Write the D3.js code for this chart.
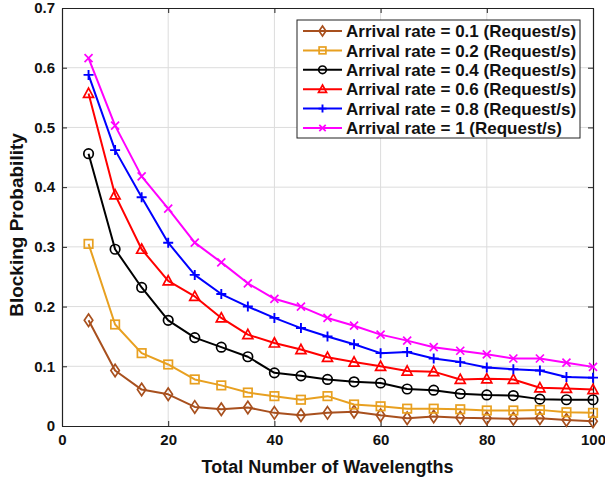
<!DOCTYPE html>
<html>
<head>
<meta charset="utf-8">
<script src="https://cdn.jsdelivr.net/npm/d3@7"></script>
<style>
  body { margin: 0; background: #fff; }
  svg { display: block; font-family: "Liberation Sans", Arial, sans-serif; }
</style>
</head>
<body>
<svg id="chart" width="605" height="479"></svg>
<script>
// wavelengths on the x axis
const wavelengths = [5, 10, 15, 20, 25, 30, 35, 40, 45, 50, 55, 60, 65, 70, 75, 80, 85, 90, 95, 100];

const rate01 = [0.177, 0.093, 0.061, 0.053, 0.032, 0.028, 0.031, 0.022, 0.018, 0.022, 0.024, 0.018, 0.013, 0.016, 0.014, 0.013, 0.012, 0.013, 0.010, 0.008];
const rate02 = [0.305, 0.170, 0.122, 0.103, 0.078, 0.068, 0.056, 0.050, 0.044, 0.050, 0.036, 0.033, 0.029, 0.029, 0.028, 0.026, 0.026, 0.027, 0.023, 0.022];
const rate04 = [0.456, 0.296, 0.232, 0.177, 0.148, 0.132, 0.116, 0.089, 0.084, 0.078, 0.074, 0.072, 0.062, 0.060, 0.054, 0.052, 0.051, 0.045, 0.044, 0.044];
const rate06 = [0.557, 0.387, 0.296, 0.243, 0.217, 0.181, 0.153, 0.139, 0.128, 0.115, 0.107, 0.100, 0.092, 0.091, 0.078, 0.079, 0.078, 0.064, 0.063, 0.061];
const rate08 = [0.588, 0.462, 0.383, 0.307, 0.253, 0.221, 0.200, 0.181, 0.164, 0.150, 0.137, 0.122, 0.124, 0.113, 0.107, 0.098, 0.095, 0.093, 0.082, 0.081];
const rate10 = [0.616, 0.503, 0.418, 0.364, 0.307, 0.274, 0.239, 0.213, 0.200, 0.181, 0.168, 0.153, 0.143, 0.132, 0.126, 0.120, 0.113, 0.113, 0.106, 0.099];

const seriesNames = [
  "Arrival rate = 0.1 (Request/s)",
  "Arrival rate = 0.2 (Request/s)",
  "Arrival rate = 0.4 (Request/s)",
  "Arrival rate = 0.6 (Request/s)",
  "Arrival rate = 0.8 (Request/s)",
  "Arrival rate = 1 (Request/s)"
];
const seriesValues = [rate01, rate02, rate04, rate06, rate08, rate10];
const seriesColors = ["#a8501e", "#e8a020", "#000000", "#ff0000", "#0000ff", "#ff00ff"];
const seriesMarkers = ["diamond", "square", "circle", "triangle", "plus", "cross"];

const xTicks = [0, 20, 40, 60, 80, 100];
const yTicks = [0, 0.1, 0.2, 0.3, 0.4, 0.5, 0.6, 0.7];

const svg = d3.select("#chart");
const margin = { left: 62, right: 12, top: 8, bottom: 53 };
const W = 605, H = 479;

const x = d3.scaleLinear().domain([0, 100]).range([margin.left, W - margin.right]);
const y = d3.scaleLinear().domain([0, 0.7]).range([H - margin.bottom, margin.top]);

// grid
const grid = svg.append("g").attr("stroke", "#dcdcdc").attr("stroke-width", 1);
grid.selectAll("line.vx").data(xTicks.slice(1, -1)).join("line")
  .attr("x1", d => x(d)).attr("x2", d => x(d))
  .attr("y1", y(0)).attr("y2", y(0.7));
grid.selectAll("line.hy").data(yTicks.slice(1, -1)).join("line")
  .attr("y1", d => y(d)).attr("y2", d => y(d))
  .attr("x1", x(0)).attr("x2", x(100));

// axes (MATLAB style: inward ticks on all sides)
const tickLen = 5;
const axFont = "bold 15px 'Liberation Sans', Arial, sans-serif";

const xAxis = d3.axisBottom(x).tickValues(xTicks).tickSizeInner(-tickLen).tickSizeOuter(0).tickPadding(8);
const yAxis = d3.axisLeft(y).tickValues(yTicks).tickSizeInner(-tickLen).tickSizeOuter(0).tickPadding(7)
  .tickFormat(d => d === 0 ? "0" : d3.format(".1f")(d));

const gx = svg.append("g").attr("transform", `translate(0,${y(0)})`).call(xAxis);
const gy = svg.append("g").attr("transform", `translate(${x(0)},0)`).call(yAxis);
svg.append("g").attr("transform", `translate(0,${y(0.7)})`)
  .call(d3.axisTop(x).tickValues(xTicks).tickSizeInner(-tickLen).tickSizeOuter(0).tickFormat(""));
svg.append("g").attr("transform", `translate(${x(100)},0)`)
  .call(d3.axisRight(y).tickValues(yTicks).tickSizeInner(-tickLen).tickSizeOuter(0).tickFormat(""));

svg.selectAll(".domain").attr("stroke", "#222").attr("stroke-width", 1.2);
svg.selectAll(".tick line").attr("stroke", "#222");
svg.selectAll(".tick text").style("font", axFont).attr("fill", "#111");

// axis titles
svg.append("text")
  .attr("x", (x(0) + x(100)) / 2).attr("y", 473)
  .attr("text-anchor", "middle")
  .style("font", "bold 18px 'Liberation Sans', Arial, sans-serif")
  .attr("fill", "#111")
  .text("Total Number of Wavelengths");
svg.append("text")
  .attr("transform", `translate(23,225) rotate(-90)`)
  .attr("text-anchor", "middle")
  .style("font", "bold 19px 'Liberation Sans', Arial, sans-serif")
  .attr("fill", "#111")
  .text("Blocking Probability");

// marker drawing
function drawMarker(sel, type, color, s) {
  const h = s / 2;
  if (type === "diamond") {
    sel.append("path").attr("d", `M0,${-h * 1.25}L${h * 0.85},0L0,${h * 1.25}L${-h * 0.85},0Z`)
      .attr("fill", "none").attr("stroke", color).attr("stroke-width", 1.7);
  } else if (type === "square") {
    sel.append("rect").attr("x", -h * 0.85).attr("y", -h * 0.85).attr("width", h * 1.7).attr("height", h * 1.7)
      .attr("fill", "none").attr("stroke", color).attr("stroke-width", 1.7);
  } else if (type === "circle") {
    sel.append("circle").attr("r", h * 0.95)
      .attr("fill", "none").attr("stroke", color).attr("stroke-width", 1.7);
  } else if (type === "triangle") {
    sel.append("path").attr("d", `M0,${-h * 1.05}L${h},${h * 0.8}L${-h},${h * 0.8}Z`)
      .attr("fill", "none").attr("stroke", color).attr("stroke-width", 1.7);
  } else if (type === "plus") {
    sel.append("path").attr("d", `M${-h},0H${h}M0,${-h}V${h}`)
      .attr("stroke", color).attr("stroke-width", 1.9);
  } else if (type === "cross") {
    const k = h * 0.8;
    sel.append("path").attr("d", `M${-k},${-k}L${k},${k}M${-k},${k}L${k},${-k}`)
      .attr("stroke", color).attr("stroke-width", 1.7);
  }
}

const line = d3.line().x(d => x(d[0])).y(d => y(d[1]));

seriesValues.forEach((vals, i) => {
  const pts = wavelengths.map((w, j) => [w, vals[j]]);
  const g = svg.append("g");
  g.append("path").datum(pts)
    .attr("d", line)
    .attr("fill", "none")
    .attr("stroke", seriesColors[i])
    .attr("stroke-width", 2)
    .attr("stroke-linejoin", "round");
  g.selectAll("g.m").data(pts).join("g")
    .attr("transform", d => `translate(${x(d[0])},${y(d[1])})`)
    .each(function () { drawMarker(d3.select(this), seriesMarkers[i], seriesColors[i], 10); });
});

// legend
const lg = svg.append("g").attr("transform", "translate(297,20)");
lg.append("rect").attr("width", 283).attr("height", 118)
  .attr("fill", "#fff").attr("stroke", "#222").attr("stroke-width", 1);
seriesNames.forEach((name, i) => {
  const ry = 11 + i * 19.4;
  const row = lg.append("g").attr("transform", `translate(0,${ry})`);
  row.append("line").attr("x1", 6).attr("x2", 45).attr("stroke", seriesColors[i]).attr("stroke-width", 2);
  const m = row.append("g").attr("transform", "translate(25.5,0)");
  drawMarker(m, seriesMarkers[i], seriesColors[i], 8);
  row.append("text").attr("x", 49).attr("dy", "0.36em")
    .style("font", "bold 17px 'Liberation Sans', Arial, sans-serif")
    .attr("fill", "#111")
    .text(name);
});
</script>
</body>
</html>
